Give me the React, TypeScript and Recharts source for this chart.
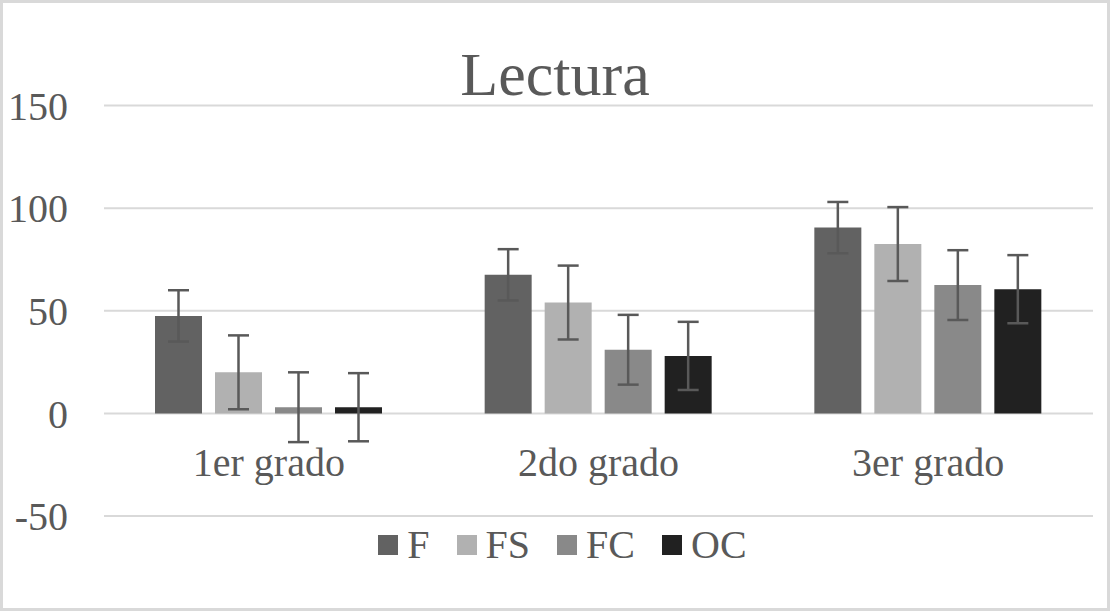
import React from "react";
import { BarChart, Bar, XAxis, YAxis, CartesianGrid, ErrorBar, Legend } from "recharts";

const categories = ["1er grado", "2do grado", "3er grado"];
const seriesNames = ["F", "FS", "FC", "OC"];
const valuesF = [47.5, 67.5, 90.5];
const valuesFS = [20, 54, 82.5];
const valuesFC = [3, 31, 62.5];
const valuesOC = [3, 28, 60.5];
const errF = [12.5, 12.5, 12.5];
const errFS = [18, 18, 18];
const errFC = [17, 17, 17];
const errOC = [16.6, 16.6, 16.6];
const yTicks = [-50, 0, 50, 100, 150];
const colors = ["#626262", "#b1b1b1", "#898989", "#212121"];

const data = categories.map((name, i) => ({
  name,
  F: valuesF[i],
  FS: valuesFS[i],
  FC: valuesFC[i],
  OC: valuesOC[i],
  F_err: errF[i],
  FS_err: errFS[i],
  FC_err: errFC[i],
  OC_err: errOC[i],
}));

const FONT = '"Liberation Serif", "Times New Roman", Times, serif';
const TEXT = "#595959";

const CategoryTick = (props: any) => {
  const { x, y, payload } = props;
  return (
    <text x={x} y={y} dy={-40} textAnchor="middle" fill={TEXT} fontSize={40} fontFamily={FONT}>
      {payload.value}
    </text>
  );
};

const LegendContent = (props: any) => {
  const items = [...(props.payload || [])].sort(
    (a: any, b: any) => seriesNames.indexOf(a.value) - seriesNames.indexOf(b.value)
  );
  return (
    <div style={{ display: "flex", justifyContent: "center", alignItems: "center", height: 50 }}>
      {items.map((entry: any, i: number) => (
        <div
          key={entry.value}
          style={{ display: "flex", alignItems: "center", marginRight: i < items.length - 1 ? 27 : 0 }}
        >
          <div style={{ width: 20, height: 20, background: entry.color, marginRight: 9 }} />
          <span style={{ fontFamily: FONT, fontSize: 40, color: TEXT, lineHeight: "40px" }}>{entry.value}</span>
        </div>
      ))}
    </div>
  );
};

export default function App() {
  return (
    <div style={{ position: "absolute", left: 0, top: 0, width: 1110, height: 611, background: "#fff" }}>
      <div
        style={{
          position: "absolute",
          left: 0,
          top: 0,
          width: 1110,
          height: 611,
          border: "3px solid #d9d9d9",
          boxSizing: "border-box",
          pointerEvents: "none",
        }}
      />
      <div
        style={{
          position: "absolute",
          left: 0,
          top: 43,
          width: 1110,
          textAlign: "center",
          fontFamily: FONT,
          fontSize: 62,
          lineHeight: "62px",
          color: TEXT,
        }}
      >
        Lectura
      </div>
      <div style={{ position: "absolute", left: 0, top: 0 }}>
        <BarChart
          width={1110}
          height={611}
          data={data}
          margin={{ top: 105.5, right: 17, bottom: 65, left: 0 }}
          barCategoryGap={51}
          barGap={13}
        >
          <CartesianGrid vertical={false} stroke="#d9d9d9" strokeWidth={2} />
          <XAxis
            dataKey="name"
            axisLine={false}
            tickLine={false}
            tickSize={0}
            tickMargin={0}
            height={30}
            tick={<CategoryTick />}
            interval={0}
          />
          <YAxis
            width={104}
            domain={[-50, 150]}
            ticks={yTicks}
            axisLine={false}
            tickLine={false}
            tickSize={0}
            tickMargin={36}
            tick={{ fill: TEXT, fontSize: 40, fontFamily: FONT }}
            interval={0}
          />
          <Legend
            layout="horizontal"
            verticalAlign="middle"
            align="center"
            itemSorter={null as any}
            content={<LegendContent />}
            wrapperStyle={{ top: 520, left: 15, width: 1095 }}
          />
          {seriesNames.map((s, i) => (
            <Bar key={s} dataKey={s} name={s} fill={colors[i]} isAnimationActive={false}>
              <ErrorBar dataKey={`${s}_err`} width={10.5} stroke="#595959" strokeWidth={2.5} direction="y" />
            </Bar>
          ))}
        </BarChart>
      </div>
    </div>
  );
}
